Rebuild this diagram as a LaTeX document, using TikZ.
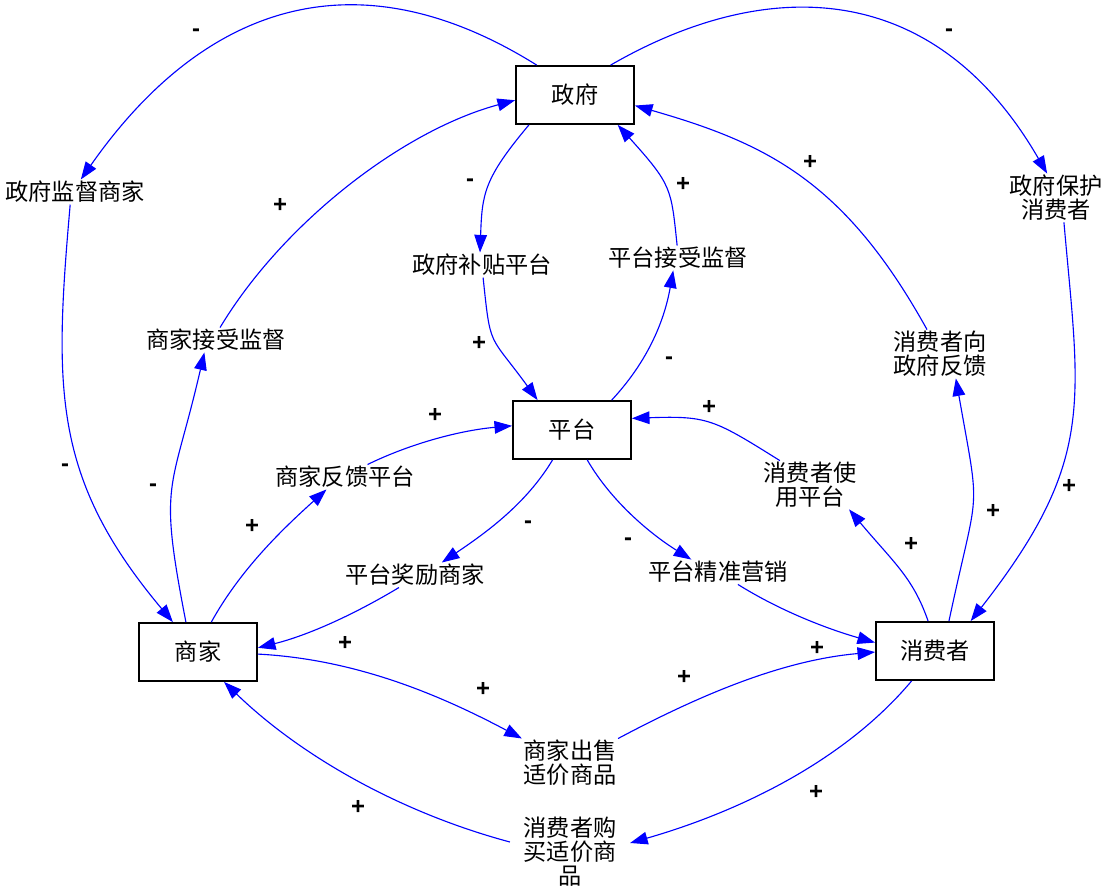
\documentclass[tikz,border=0pt]{standalone}
\usepackage{fontspec}
\setmainfont{Liberation Sans}
\newfontfamily\cjk{Noto Sans CJK SC}
\usetikzlibrary{arrows.meta}

\begin{document}
\begin{tikzpicture}[x=0.025cm, y=0.025cm,
    box/.style={draw, line width=1.3pt, minimum width=2.95cm, minimum height=1.45cm,
        font=\cjk\fontsize{16.5}{17}\selectfont},
    var/.style={inner sep=1pt, align=center, font=\cjk\fontsize{16.5}{17}\selectfont},
    link/.style={blue, line width=0.8pt, -{Triangle[length=12.5pt, width=9pt]}},
    sign/.style={inner sep=1pt, font=\bfseries\fontsize{17}{17}\selectfont}]
  \useasboundingbox (0,0) rectangle (1105,890);

  % 主体
  \node[box] (gov)   at (575,795) {政府};
  \node[box] (plat)  at (572,460) {平台};
  \node[box] (merch) at (198,238) {商家};
  \node[box] (cons)  at (935,239) {消费者};

  % 中间变量
  \node[var] (govsup)   at (75,698)   {政府监督商家};
  \node[var] (subsid)   at (482,625)  {政府补贴平台};
  \node[var] (platacc)  at (678,632)  {平台接受监督};
  \node[var] (merchacc) at (216,550)  {商家接受监督};
  \node[var] (govprot)  at (1056,692) {政府保护\\消费者};
  \node[var] (consfb)   at (940,536)  {消费者向\\政府反馈};
  \node[var] (merchfb)  at (345,413)  {商家反馈平台};
  \node[var] (consuse)  at (810,405)  {消费者使\\用平台};
  \node[var] (reward)   at (415,315)  {平台奖励商家};
  \node[var] (market)   at (718,318)  {平台精准营销};
  \node[var] (sell)     at (570,127)  {商家出售\\适价商品};
  \node[var] (buy)      at (570,38)   {消费者购\\买适价商\\品};

  % 政府的回路
  \draw[link] (gov.142) .. controls +(148:217) and +(55:209) .. (govsup.65);
  \draw[link] (govsup.249) .. controls +(265:185) and +(130:188) .. (merch.130);
  \draw[link] (merch.112) .. controls +(101:147) and +(257:147) .. (merchacc.227);
  \draw[link] (merchacc.72) .. controls +(59:122) and +(195:116) .. (gov.185);
  \draw[link] (gov.213) .. controls +(230:70) and +(88:59) .. (subsid.99);
  \draw[link] (subsid.275) .. controls +(276:73) and +(126:83) .. (plat.139);
  \draw[link] (plat.37) .. controls +(47:61) and +(260:42) .. (platacc.249);
  \draw[link] (platacc.94) .. controls +(96:58) and +(312:81) .. (gov.325);
  \draw[link] (gov.40) .. controls +(30:182) and +(120:224) .. (govprot.110);
  \draw[link] (govprot.288) .. controls +(275:181) and +(52:204) .. (cons.40);
  \draw[link] (cons.65) .. controls +(78:144) and +(280:144) .. (consfb.303);
  \draw[link] (consfb.118) .. controls +(119:169) and +(344:138) .. (gov.350);

  % 平台的回路
  \draw[link] (cons.103) .. controls +(109:46) and +(310:69) .. (consuse.328);
  \draw[link] (consuse.141) .. controls +(148:78) and +(2:76) .. (plat.11);
  \draw[link] (merch.66) .. controls +(61:60) and +(222:60) .. (merchfb.214);
  \draw[link] (merchfb.29) .. controls +(26:50) and +(185:50) .. (plat.176);
  \draw[link] (plat.237) .. controls +(239:52) and +(34:52) .. (reward.25);
  \draw[link] (reward.218) .. controls +(211:52) and +(14:52) .. (merch.4);
  \draw[link] (plat.297) .. controls +(300:48) and +(148:48) .. (market.155);
  \draw[link] (market.328) .. controls +(328:50) and +(164:50) .. (cons.172);

  % 商家与消费者之间
  \draw[link] (merch.358) .. controls +(357:96) and +(152:96) .. (sell.north west);
  \draw[link] (sell.north east) .. controls +(28:93) and +(185:93) .. (cons.181);
  \draw[link] (cons.232) .. controls +(230:108) and +(16:108) .. ([shift={(12,9)}]buy.east);
  \draw[link] ([shift={(-12,10)}]buy.west) .. controls +(165:110) and +(316:110) .. (merch.311);

  % 极性
  \foreach \sx/\sy/\sg [count=\i] in {196/857/-, 65/422/-, 153/402/-, 280/685/+,
      470/707/-, 479/547/+, 669/529/-, 683/706/+, 949/857/-, 1069/404/+,
      993/379/+, 810/728/+, 911/346/+, 709/483/+, 252/364/+, 435/475/+,
      528/365/-, 345/247/+, 483/201/+, 358/83/+, 628/348/-, 817/242/+,
      684/213/+, 816/98/+}
    \node[sign] (s\i) at (\sx,\sy) {\sg};
\end{tikzpicture}
\end{document}
